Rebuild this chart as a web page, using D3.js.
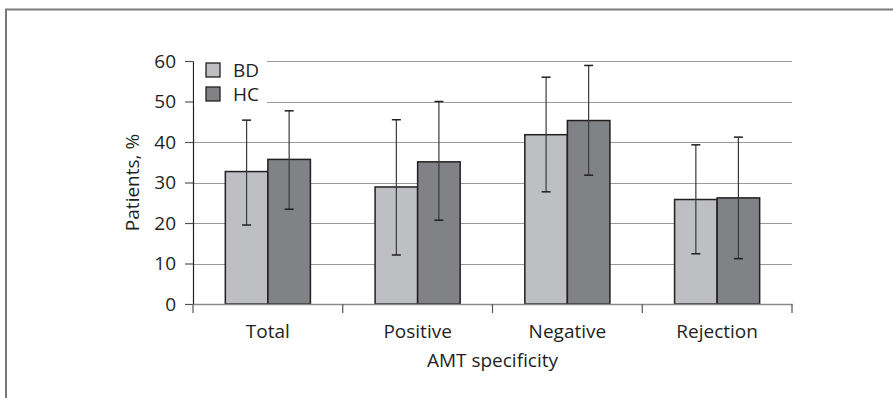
<!DOCTYPE html>
<html>
<head>
<meta charset="utf-8">
<script src="https://cdn.jsdelivr.net/npm/d3@7"></script>
<style>
  body { margin: 0; background: #fff; }
  text { font-family: "Open Sans", "Noto Sans", sans-serif; fill: #231f20; }
</style>
</head>
<body>
<div id="chart"></div>
<script>
const categories = ["Total", "Positive", "Negative", "Rejection"];
const groups = ["BD", "HC"];
const bdMean = [32.7, 28.9, 41.8, 25.8];
const bdLow  = [19.5, 12.1, 27.7, 12.4];
const bdHigh = [45.4, 45.5, 56.0, 39.3];
const hcMean = [35.7, 35.1, 45.3, 26.2];
const hcLow  = [23.4, 20.7, 31.8, 11.2];
const hcHigh = [47.7, 50.0, 58.9, 41.2];
const yTicks = [0, 10, 20, 30, 40, 50, 60];

const width = 893, height = 398;
const margin = { left: 193, right: 101, top: 61, bottom: 94 };
const colors = { BD: "#bebfc3", HC: "#808285" };
const fontSize = "19px";

const rows = categories.map((c, i) => ({
  cat: c,
  BD: { mean: bdMean[i], lo: bdLow[i], hi: bdHigh[i] },
  HC: { mean: hcMean[i], lo: hcLow[i], hi: hcHigh[i] }
}));

const svg = d3.select("#chart").append("svg")
  .attr("width", width)
  .attr("height", height);

// outer frame (top + left edges)
svg.append("path")
  .attr("d", `M6,${height} L6,9.5 L${width},9.5`)
  .attr("fill", "none")
  .attr("stroke", "#7a7a7a")
  .attr("stroke-width", 2);

const x = d3.scaleBand()
  .domain(categories)
  .range([margin.left, width - margin.right])
  .paddingInner(0)
  .paddingOuter(0);

const inner = d3.scaleBand()
  .domain(groups)
  .range([0, x.bandwidth()])
  .paddingInner(0)
  .paddingOuter(0.76);

const y = d3.scaleLinear()
  .domain([0, 60])
  .range([height - margin.bottom, margin.top]);

// gridlines
svg.append("g").selectAll("line")
  .data(yTicks.filter(t => t > 0))
  .join("line")
  .attr("x1", margin.left)
  .attr("x2", width - margin.right)
  .attr("y1", d => Math.round(y(d)) + 0.5)
  .attr("y2", d => Math.round(y(d)) + 0.5)
  .attr("stroke", "#9a9a9a")
  .attr("stroke-width", 1.2);

// bars
const g = svg.append("g").selectAll("g")
  .data(rows)
  .join("g")
  .attr("transform", d => `translate(${x(d.cat)},0)`);

g.selectAll("rect")
  .data(d => groups.map(k => ({ key: k, ...d[k] })))
  .join("rect")
  .attr("x", d => inner(d.key))
  .attr("width", inner.bandwidth())
  .attr("y", d => y(d.mean))
  .attr("height", d => y(0) - y(d.mean))
  .attr("fill", d => colors[d.key])
  .attr("stroke", "#231f20")
  .attr("stroke-width", 1.5);

// error bars
const eb = g.selectAll("g.err")
  .data(d => groups.map(k => ({ key: k, ...d[k] })))
  .join("g")
  .attr("class", "err")
  .attr("transform", d => `translate(${inner(d.key) + inner.bandwidth() / 2},0)`);

eb.append("line")
  .attr("y1", d => y(d.lo)).attr("y2", d => y(d.hi))
  .attr("stroke", "#3a3a3a").attr("stroke-width", 1.2);
eb.append("line")
  .attr("x1", -4.5).attr("x2", 4.5)
  .attr("y1", d => y(d.hi)).attr("y2", d => y(d.hi))
  .attr("stroke", "#231f20").attr("stroke-width", 1.5);
eb.append("line")
  .attr("x1", -4.5).attr("x2", 4.5)
  .attr("y1", d => y(d.lo)).attr("y2", d => y(d.lo))
  .attr("stroke", "#231f20").attr("stroke-width", 1.5);

// y axis
const yAxis = svg.append("g")
  .attr("transform", `translate(${margin.left},0)`)
  .call(d3.axisLeft(y).tickValues(yTicks).tickSize(8).tickPadding(9).tickSizeOuter(0));
yAxis.select(".domain").attr("stroke", "#231f20").attr("stroke-width", 1.2);
yAxis.selectAll(".tick line").attr("stroke", "#555").attr("stroke-width", 1.2);
yAxis.selectAll(".tick text")
  .style("font-size", fontSize)
  .style("font-family", "'Open Sans', sans-serif")
  .attr("fill", "#231f20");

// x axis
const xAxis = svg.append("g")
  .attr("transform", `translate(0,${y(0)})`)
  .call(d3.axisBottom(x).tickSize(0).tickPadding(21));
xAxis.select(".domain").attr("stroke", "#8a8a8a").attr("stroke-width", 1.5);
xAxis.selectAll(".tick text")
  .style("font-size", fontSize)
  .style("font-family", "'Open Sans', sans-serif")
  .attr("fill", "#231f20");

// category separators
svg.append("g").selectAll("line")
  .data(categories.concat(["end"]))
  .join("line")
  .attr("x1", (d, i) => i < categories.length ? x(d) : x.range()[1])
  .attr("x2", (d, i) => i < categories.length ? x(d) : x.range()[1])
  .attr("y1", y(0))
  .attr("y2", y(0) + 9)
  .attr("stroke", "#555")
  .attr("stroke-width", 1.2);

// axis titles
svg.append("text")
  .attr("x", (x.range()[0] + x.range()[1]) / 2)
  .attr("y", 367)
  .attr("text-anchor", "middle")
  .style("font-size", fontSize)
  .text("AMT specificity");

svg.append("text")
  .attr("transform", `translate(139,${(y(0) + y(60)) / 2}) rotate(-90)`)
  .attr("text-anchor", "middle")
  .style("font-size", fontSize)
  .text("Patients, %");

// legend
const legend = svg.append("g").attr("transform", `translate(${margin.left + 1},52)`);
legend.append("rect")
  .attr("x", 0).attr("y", 0).attr("width", 73).attr("height", 54)
  .attr("fill", "#fff");
legend.selectAll("g")
  .data(groups)
  .join("g")
  .attr("transform", (d, i) => `translate(12,${11 + i * 24})`)
  .call(s => {
    s.append("rect")
      .attr("width", 14).attr("height", 14)
      .attr("fill", d => colors[d])
      .attr("stroke", "#231f20")
      .attr("stroke-width", 1.3);
    s.append("text")
      .attr("x", 27).attr("y", 14)
      .style("font-size", fontSize)
      .text(d => d);
  });
</script>
</body>
</html>
